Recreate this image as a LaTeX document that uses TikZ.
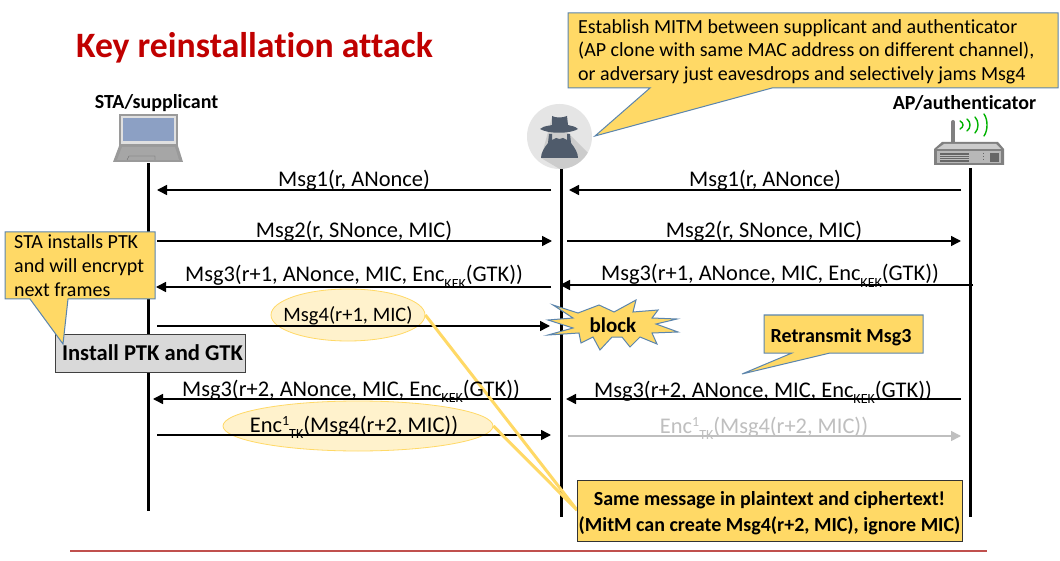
\documentclass[tikz,border=0pt]{standalone}
\usepackage{fontspec}
\setmainfont[Ligatures=NoCommon]{Carlito}
\definecolor{callfill}{HTML}{FFD966}
\definecolor{callline}{HTML}{5B85AD}
\definecolor{ellfill}{HTML}{FFF2CC}
\definecolor{titlered}{HTML}{C00000}
\definecolor{rulered}{HTML}{C0504D}
\definecolor{figc}{HTML}{4F5B6B}
\definecolor{lapg}{HTML}{9A9A9A}
\definecolor{screenc}{HTML}{8CA0C4}
\usetikzlibrary{arrows.meta,shapes.geometric}
\newcommand{\kek}{\raisebox{-6.5pt}{\fontsize{14}{14}\selectfont KEK}}
\newcommand{\tkk}{\raisebox{-6.5pt}{\fontsize{14}{14}\selectfont TK}}
\newcommand{\one}{\raisebox{7pt}{\fontsize{14}{14}\selectfont 1}}
\tikzset{
 life/.style={line width=3pt,black},
 msg/.style={line width=1.5pt,-{Triangle[length=10pt,width=10pt]}},
 ghost/.style={msg,color=black!25},
 lab/.style={font=\fontsize{22.4}{26}\selectfont,inner sep=0pt,anchor=base},
 ghostlab/.style={lab,text=black!25},
 actor/.style={font=\bfseries\fontsize{20}{24}\selectfont,inner sep=0pt,anchor=base},
 call/.style={fill=callfill,draw=callline,line width=1pt},
 say/.style={font=\fontsize{20}{24}\selectfont,inner sep=0pt,anchor=base west},
 boldsay/.style={font=\bfseries\fontsize{20}{24}\selectfont,inner sep=0pt,anchor=base},
 hl/.style={ellipse,fill=ellfill,draw=callfill,line width=.8pt,inner sep=0pt},
 beam/.style={callfill,line width=3pt},
}
\begin{document}
\begin{tikzpicture}[x=1pt,y=-1pt]
\useasboundingbox (0,0) rectangle (1060,561);
\fill[white] (0,0) rectangle (1060,561);
\node[inner sep=0pt,anchor=base west,text=titlered,font=\bfseries\fontsize{35.7}{40}\selectfont] (title) at (76,58) {Key reinstallation attack};
\coordinate (rl) at (70,551); \coordinate (rr) at (987,551);
\draw[rulered,line width=1.2pt] (rl) -- (rr);
% lifelines
\coordinate (a0) at (148,163); \coordinate (a1) at (148,511);
\coordinate (m0) at (561,168); \coordinate (m1) at (561,517);
\coordinate (b0) at (970,168); \coordinate (b1) at (970,517);
\draw[life] (a0)--(a1); \draw[life] (m0)--(m1); \draw[life] (b0)--(b1);
% actors
\node[actor] (sta) at (156.5,109) {STA/supplicant};
\node[actor] (ap) at (964.5,110) {AP/authenticator};
% laptop
\fill[lapg] (119,114) rectangle (178,146);
\fill[black!12] (121,116) rectangle (176,144);
\fill[screenc] (123,118) rectangle (174,141);
\fill[lapg] (119,146) -- (178,146) -- (183,162) -- (113,162) -- cycle;
\fill[black!35] (122,147) -- (175,147) -- (179,160) -- (117,160) -- cycle;
\draw[black!60] (127,160) -- (129,156) -- (155,156) -- (155,160);
% router
\draw[line width=4pt,black!50,line cap=round] (953,122) -- (953,143);
\fill[black!50] (942,142) -- (998,142) -- (1004,149) -- (1004,165) -- (934,165) -- (934,149) -- cycle;
\fill[black!20] (944,144) -- (996,144) -- (1001,149) -- (937,149) -- cycle;
\fill[black!28] (937,151) rectangle (1001,163);
\fill[black!60] (940,153) rectangle (969,162);
\foreach \yy in {155,157,159}{\draw[black!25,line width=.5pt] (940,\yy) -- (969,\yy);}
\fill[black!60] (990,153) rectangle (999,162);
\draw[black!60,dotted,line width=1pt] (983,153) -- (983,162);
\foreach \xc/\hh in {963/4,970/6,978/8,987/11}{
 \draw[green!70!black,line width=1.4pt,line cap=round] (\xc-3,125-\hh) .. controls (\xc+1,125-\hh/2) and (\xc+1,125+\hh/2) .. (\xc-3,125+\hh);
}
% hacker
\fill[black!10!white] (559.5,136.5) circle[radius=32.5pt];
\begin{scope}
\clip (559.5,136.5) circle[radius=32.5pt];
\fill[black!20] (552,117) -- (600,165) -- (575,178) -- (541,158) -- cycle;
\end{scope}
\fill[figc] (540,129) .. controls (545,125) and (550,126) .. (552,125) -- (552,116) .. controls (556,118) and (562,118) .. (567,116) -- (568,125) .. controls (571,126) and (575,126) .. (578,129) .. controls (570,134) and (548,134) .. (540,129) -- cycle;
\fill[figc] (549,134) -- (552,134) -- (552,140) -- (556,138) -- (559.5,139) -- (563,138) -- (567,140) -- (567,134) -- (570,134) -- (571,143) .. controls (575,148) and (578,153) .. (578,158) -- (541,158) .. controls (541,153) and (544,148) .. (548,143) -- cycle;
% arrows
\coordinate (p1s) at (551,190); \coordinate (p1e) at (157,190);
\coordinate (q1s) at (961,190); \coordinate (q1e) at (569,190);
\coordinate (p2s) at (157,241); \coordinate (p2e) at (552,241);
\coordinate (q2s) at (567,241); \coordinate (q2e) at (961,241);
\coordinate (p3s) at (551,287); \coordinate (p3e) at (156,287);
\coordinate (q3s) at (973,285); \coordinate (q3e) at (560,285);
\coordinate (p4s) at (157,326); \coordinate (p4e) at (550,326);
\coordinate (p5s) at (551,399); \coordinate (p5e) at (153,399);
\coordinate (q5s) at (961,399); \coordinate (q5e) at (566,399);
\coordinate (p6s) at (157,435); \coordinate (p6e) at (551,435);
\coordinate (q6s) at (568,436); \coordinate (q6e) at (961,436);
% ellipses
\node[hl,minimum width=154pt,minimum height=52pt] (e1) at (348,315) {};
\node[hl,minimum width=270pt,minimum height=50pt] (e2) at (358,426) {};
\draw[msg] (p1s)--(p1e); \draw[msg] (q1s)--(q1e);
\draw[msg] (p2s)--(p2e); \draw[msg] (q2s)--(q2e);
\draw[msg] (p3s)--(p3e); \draw[msg] (q3s)--(q3e);
\draw[msg] (p4s)--(p4e);
\draw[msg] (p5s)--(p5e); \draw[msg] (q5s)--(q5e);
\draw[msg] (p6s)--(p6e); \draw[ghost] (q6s)--(q6e);
% beams from the highlighted messages to the note
\coordinate (beamend) at (577,510);
\draw[beam] (e1.east) -- (beamend);
\draw[beam] (e2.east) -- (beamend);
% labels
\node[lab] (l1) at (354,187) {Msg1(r, ANonce)};
\node[lab] (l1b) at (765,187) {Msg1(r, ANonce)};
\node[lab] (l2) at (354,238) {Msg2(r, SNonce, MIC)};
\node[lab] (l2b) at (764,238) {Msg2(r, SNonce, MIC)};
\node[lab] (l3) at (354,282) {Msg3(r+1, ANonce, MIC, Enc\kek(GTK))};
\node[lab] (l3b) at (770,281) {Msg3(r+1, ANonce, MIC, Enc\kek(GTK))};
\node[lab,font=\fontsize{20.5}{24}\selectfont] (l4) at (348,322) {Msg4(r+1, MIC)};
\node[lab] (l5) at (351,396) {Msg3(r+2, ANonce, MIC, Enc\kek(GTK))};
\node[lab] (l5b) at (763,397) {Msg3(r+2, ANonce, MIC, Enc\kek(GTK))};
\node[lab] (l6) at (354,432) {Enc\one\tkk(Msg4(r+2, MIC))};
\node[ghostlab] (l6b) at (764,433) {Enc\one\tkk(Msg4(r+2, MIC))};
% top callout
\filldraw[call] (568,13) -- (1058,13) -- (1058,88) -- (772,88) -- (595,136) -- (650,88) -- (568,88) -- cycle;
\node[say] (t1) at (578,34) {Establish MITM between supplicant and authenticator};
\node[say] (t2) at (578,57) {(AP clone with same MAC address on different channel),};
\node[say] (t3) at (578,81) {or adversary just eavesdrops and selectively jams Msg4};
% install box
\node[draw=black!75,fill=black!15,line width=1pt,minimum width=190pt,minimum height=38pt,inner sep=0pt,font=\bfseries\fontsize{22.6}{27}\selectfont] (inst) at (150,353) {\hspace*{5pt}Install PTK and GTK};
% left callout
\filldraw[call] (5,232) -- (155,232) -- (155,299) -- (68,299) -- (63,344) -- (30,299) -- (5,299) -- cycle;
\node[say] (s1) at (14,249) {STA installs PTK};
\node[say] (s2) at (14,273) {and will encrypt};
\node[say] (s3) at (14,297) {next frames};
% block
\filldraw[call] (553,305) -- (578,313) -- (599,305) -- (614,312) -- (636,300) -- (633,312) -- (658,310) -- (652,318) -- (677,319) -- (656,324) -- (678,332) -- (652,333) -- (657,344) -- (640,337) -- (630,347) -- (622,337) -- (612,337) -- (600,350) -- (593,337) -- (581,343) -- (579,333) -- (548,335) -- (573,328) -- (548,320) -- (573,318) -- cycle;
\node[boldsay,font=\bfseries\fontsize{21}{24}\selectfont] (blk) at (613,332) {block};
% retransmit
\filldraw[call] (764,315) -- (923,315) -- (923,353) -- (830,353) -- (742,374) -- (792,353) -- (764,353) -- cycle;
\node[boldsay] (ret) at (841,342) {Retransmit Msg3};
% note
\node[fill=callfill,draw=black!80,line width=1pt,minimum width=385pt,minimum height=61pt,inner sep=0pt,align=center,font=\bfseries\fontsize{20}{26}\selectfont] (note) at (769.5,510.5) {\rule{0pt}{19.5pt}Same message in plaintext and ciphertext!\\(MitM can create Msg4(r+2, MIC), ignore MIC)};
\end{tikzpicture}
\end{document}
